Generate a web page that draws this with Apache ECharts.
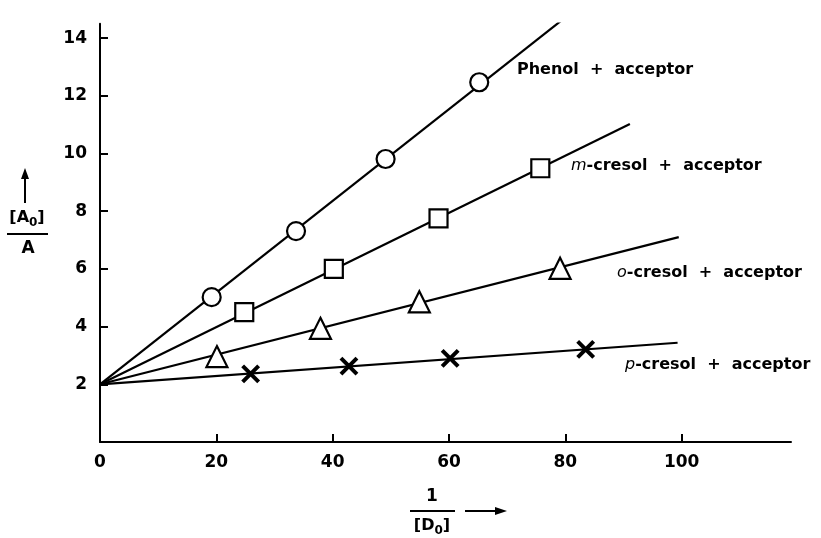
<!DOCTYPE html>
<html>
<head>
<meta charset="utf-8">
<script src="https://cdn.jsdelivr.net/npm/echarts@6/dist/echarts.min.js"></script>
<style>
  html, body { margin: 0; padding: 0; background: #fff; }
  #chart { width: 821px; height: 538px; }
</style>
</head>
<body>
<div id="chart"></div>
<script>
const phenolX = [19.2, 33.7, 49.1, 65.2]
const phenolY = [5.02, 7.31, 9.81, 12.47]
const mCresolX = [24.8, 40.2, 58.2, 75.7]
const mCresolY = [4.5, 6.0, 7.75, 9.49]
const oCresolX = [20.1, 37.9, 54.9, 79.1]
const oCresolY = [2.96, 3.94, 4.86, 6.02]
const pCresolX = [25.9, 42.8, 60.2, 83.5]
const pCresolY = [2.36, 2.63, 2.9, 3.21]

// fitted straight lines: common intercept and the end of each drawn line
const intercept = [0, 2]
const phenolEnd = [80.9, 14.86]
const mCresolEnd = [91.1, 11.02]
const oCresolEnd = [99.5, 7.1]
const pCresolEnd = [99.3, 3.44]

const xTicks = [0, 20, 40, 60, 80, 100]
const yTicks = [2, 4, 6, 8, 10, 12, 14]

const font = '"DejaVu Sans", "Liberation Sans", sans-serif'
const zip = (xs, ys) => xs.map((x, i) => [x, ys[i]])

function fitLine(end) {
  return {
    type: 'line',
    data: [intercept, end],
    symbol: 'none',
    lineStyle: { color: '#000', width: 2.2 },
    z: 2,
    silent: true,
  }
}
function points(xs, ys, symbol, size, extra) {
  return {
    type: 'scatter',
    data: zip(xs, ys),
    symbol: symbol,
    symbolSize: size,
    itemStyle: Object.assign({ color: '#fff', borderColor: '#000', borderWidth: 2.2, opacity: 1 }, extra || {}),
    z: 3,
  }
}

const chart = echarts.init(document.querySelector('#chart'))
const labelStyle = {
  fontFamily: font,
  fontSize: 16,
  fontWeight: 'bold',
  fill: '#000',
  rich: {
    i: { fontFamily: font, fontSize: 16, fontStyle: 'italic', fontWeight: 'normal' },
  },
}
const option = {
  backgroundColor: '#fff',
  animation: false,
  grid: { left: 100, right: 30, top: 23.7, bottom: 96 },
  xAxis: {
    type: 'value',
    min: 0,
    max: 118.8,
    interval: 20,
    splitLine: { show: false },
    axisLine: { lineStyle: { color: '#000', width: 2 } },
    axisTick: { inside: true, length: 8, lineStyle: { color: '#000', width: 2 }, customValues: xTicks.slice(1) },
    axisLabel: { customValues: xTicks, color: '#000', fontFamily: font, fontSize: 17, fontWeight: 'bold', margin: 12 },
  },
  yAxis: {
    type: 'value',
    min: 0,
    max: 14.5,
    interval: 2,
    splitLine: { show: false },
    axisLine: { lineStyle: { color: '#000', width: 2 } },
    axisTick: { inside: true, length: 8, lineStyle: { color: '#000', width: 2 }, customValues: yTicks },
    axisLabel: { customValues: yTicks, color: '#000', fontFamily: font, fontSize: 17, fontWeight: 'bold', margin: 13 },
  },
  series: [
    fitLine(phenolEnd),
    fitLine(mCresolEnd),
    fitLine(oCresolEnd),
    fitLine(pCresolEnd),
    points(phenolX, phenolY, 'circle', 18),
    points(mCresolX, mCresolY, 'rect', 18),
    points(oCresolX, oCresolY, 'triangle', 21),
    points(pCresolX, pCresolY, 'path://M0,0L10,10M10,0L0,10', 16, { borderWidth: 4 }),
  ],
  graphic: [
    { type: 'text', left: 517, top: 62, style: Object.assign({ text: 'Phenol  +  acceptor' }, labelStyle) },
    { type: 'text', left: 571, top: 158, style: Object.assign({ text: '{i|m}-cresol  +  acceptor' }, labelStyle) },
    { type: 'text', left: 617, top: 265, style: Object.assign({ text: '{i|o}-cresol  +  acceptor' }, labelStyle) },
    { type: 'text', left: 625, top: 357, style: Object.assign({ text: '{i|p}-cresol  +  acceptor' }, labelStyle) },
    // y axis name: arrow and fraction [A0]/A
    { type: 'line', shape: { x1: 25, y1: 203, x2: 25, y2: 176 }, style: { stroke: '#000', lineWidth: 2 } },
    { type: 'polygon', shape: { points: [[25, 168], [21, 179], [29, 179]] }, style: { fill: '#000' } },
    {
      type: 'text', x: 27, y: 218,
      style: {
        text: '[A{s|0}]', align: 'center', verticalAlign: 'middle',
        fontFamily: font, fontSize: 16, fontWeight: 'bold', fill: '#000',
        rich: { s: { fontFamily: font, fontSize: 12, fontWeight: 'bold', verticalAlign: 'bottom', padding: [10, 0, 0, 0] } },
      },
    },
    { type: 'line', shape: { x1: 7, y1: 234, x2: 48, y2: 234 }, style: { stroke: '#000', lineWidth: 2 } },
    { type: 'text', x: 28, y: 249, style: { text: 'A', align: 'center', verticalAlign: 'middle', fontFamily: font, fontSize: 17, fontWeight: 'bold', fill: '#000' } },
    // x axis name: 1/[D0] with arrow
    { type: 'text', x: 432, y: 497, style: { text: '1', align: 'center', verticalAlign: 'middle', fontFamily: font, fontSize: 17, fontWeight: 'bold', fill: '#000' } },
    { type: 'line', shape: { x1: 410, y1: 511, x2: 455, y2: 511 }, style: { stroke: '#000', lineWidth: 2 } },
    {
      type: 'text', x: 432, y: 526,
      style: {
        text: '[D{s|0}]', align: 'center', verticalAlign: 'middle',
        fontFamily: font, fontSize: 16, fontWeight: 'bold', fill: '#000',
        rich: { s: { fontFamily: font, fontSize: 12, fontWeight: 'bold', verticalAlign: 'bottom', padding: [10, 0, 0, 0] } },
      },
    },
    { type: 'line', shape: { x1: 465, y1: 511, x2: 496, y2: 511 }, style: { stroke: '#000', lineWidth: 2 } },
    { type: 'polygon', shape: { points: [[507, 511], [495, 507], [495, 515]] }, style: { fill: '#000' } },
  ],
}
chart.setOption(option)
</script>
</body>
</html>
